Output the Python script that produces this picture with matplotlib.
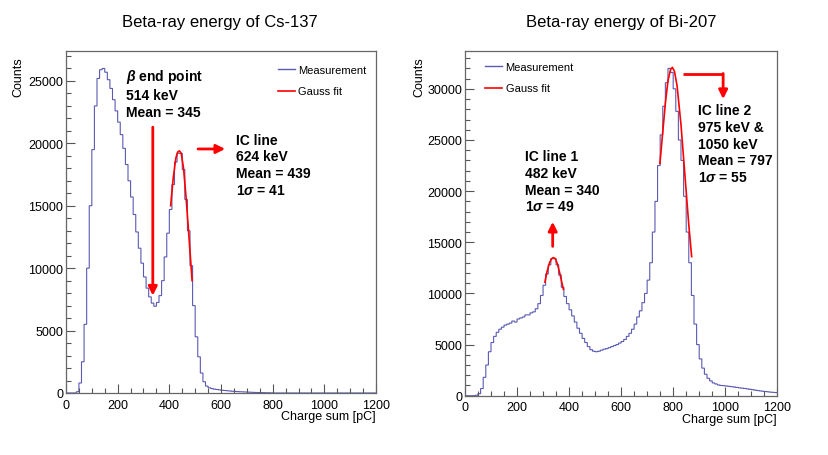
import numpy as np
import matplotlib
matplotlib.use('Agg')
import matplotlib.pyplot as plt
from matplotlib.lines import Line2D
from matplotlib.ticker import MultipleLocator

plt.rcParams['font.family'] = ['Liberation Sans', 'DejaVu Sans']
plt.rcParams['mathtext.fontset'] = 'custom'
plt.rcParams['mathtext.rm'] = 'Liberation Sans:bold'
plt.rcParams['mathtext.it'] = 'Liberation Sans:italic:bold'
plt.rcParams['mathtext.bf'] = 'Liberation Sans:bold'

# histogram bins, 10 pC wide
bin_edges = np.arange(0, 1201, 10)

# Cs-137 counts per bin
cs137_counts = [
    0, 0, 0, 0, 100, 800, 2500, 5500, 10000, 15000,
    19500, 23000, 25200, 25900, 26000, 25700, 25100, 24400, 23500, 22600,
    21700, 20700, 19600, 18300, 17000, 15700, 14300, 12900, 11600, 10400,
    9300, 8400, 7700, 7200, 6950, 7250, 7800, 9000, 10900, 12800,
    14700, 16700, 18500, 19200, 19200, 17900, 15500, 13000, 10200, 7000,
    4500, 2900, 1600, 900, 550, 420, 350, 310, 280, 250,
    220, 200, 180, 160, 140, 125, 110, 100, 90, 80,
    70, 60, 50, 40, 35, 30, 25, 20, 15, 10,
    0, 0, 0, 0, 0, 0, 0, 0, 0, 0,
    0, 0, 0, 0, 0, 0, 0, 0, 0, 0,
    0, 0, 0, 0, 0, 0, 0, 0, 0, 0,
    0, 0, 0, 0, 0, 0, 0, 0, 0, 0,
]

# Bi-207 counts per bin
bi207_counts = [
    0, 0, 0, 0, 50, 200, 700, 1800, 3000, 4300,
    5200, 5800, 6200, 6500, 6700, 6900, 7000, 7100, 7300, 7200,
    7500, 7600, 7700, 7900, 7900, 8100, 8200, 8500, 9000, 9800,
    10800, 11900, 12800, 13400, 13400, 12800, 11800, 10600, 9700, 9000,
    8400, 7800, 7200, 6600, 6100, 5600, 5200, 4800, 4500, 4350,
    4300, 4350, 4450, 4550, 4600, 4700, 4800, 4900, 5000, 5150,
    5300, 5500, 5800, 6100, 6500, 7000, 7700, 8300, 9100, 10000,
    11300, 13000, 16000, 19000, 22500, 25500, 28300, 30600, 32000, 31600,
    30000, 27800, 25000, 23000, 19500, 16000, 13000, 9800, 7000, 5000,
    3600, 2700, 2100, 1700, 1450, 1250, 1150, 1050, 1000, 980,
    950, 920, 880, 850, 810, 770, 740, 710, 670, 630,
    590, 550, 510, 470, 440, 410, 380, 350, 330, 310,
]

# Gauss fit curves
cs_fit_x = [405, 415, 425, 432, 439, 446, 455, 465, 475, 488]
cs_fit_y = [15000, 17200, 18800, 19300, 19400, 19200, 18000, 15600, 12800, 9000]

bi_fit1_x = [307, 315, 325, 333, 340, 347, 355, 365, 378]
bi_fit1_y = [11100, 12100, 13000, 13400, 13500, 13400, 12900, 11900, 10400]

bi_fit2_x = [749, 760, 770, 780, 790, 797, 805, 815, 830, 845, 860, 871]
bi_fit2_y = [22700, 25800, 28600, 30800, 31900, 32100, 31700, 30300, 26500, 21600, 16700, 13600]

hist_color = '#5a5ab4'
frame_color = '#666666'


def style_axes(ax, ymax):
    ax.set_xlim(0, 1200)
    ax.set_ylim(0, ymax)
    ax.xaxis.set_major_locator(MultipleLocator(200))
    ax.xaxis.set_minor_locator(MultipleLocator(50))
    ax.yaxis.set_major_locator(MultipleLocator(5000))
    ax.yaxis.set_minor_locator(MultipleLocator(1000))
    ax.tick_params(which='both', direction='in', top=False, right=False,
                   labelsize=9, color='#555555')
    ax.tick_params(which='major', length=6.5, width=0.8)
    ax.tick_params(which='minor', length=3.6, width=0.8)
    ax.tick_params(axis='x', pad=4)
    ax.tick_params(axis='y', pad=2)
    for s in ax.spines.values():
        s.set_color(frame_color)
        s.set_linewidth(0.9)


def red_arrow(ax, xy_from, xy_to):
    ax.annotate('', xy=xy_to, xytext=xy_from,
                arrowprops=dict(arrowstyle='-|>', color='red', lw=2,
                                mutation_scale=13, shrinkA=0, shrinkB=0))


fig = plt.figure(figsize=(8.29, 4.56), dpi=100)
ax1 = fig.add_axes([0.0796, 0.136, 0.374, 0.75])
ax2 = fig.add_axes([0.5609, 0.130, 0.3767, 0.756])

# ---- Cs-137
st = ax1.stairs(cs137_counts, bin_edges, color=hist_color, lw=0.8, baseline=None)
st.set_snap(False)
ax1.plot(cs_fit_x, cs_fit_y, color='red', lw=1.2)
style_axes(ax1, 27400)
red_arrow(ax1, (336, 21300), (336, 7800))
red_arrow(ax1, (511, 19550), (616, 19550))
ax1.text(232, 26100, '$\\beta$ end point\n514 keV\nMean = 345', fontsize=10,
         fontweight='bold', va='top', ha='left', linespacing=1.25)
ax1.text(657, 20850, 'IC line\n624 keV\nMean = 439\n1$\\sigma$ = 41', fontsize=10,
         fontweight='bold', va='top', ha='left', linespacing=1.25)
h1 = [Line2D([], [], color=hist_color, lw=1), Line2D([], [], color='red', lw=1.2)]
ax1.legend(h1, ['Measurement', 'Gauss fit'], loc='upper right',
           bbox_to_anchor=(0.968, 0.958), frameon=False, fontsize=8,
           borderpad=0, borderaxespad=0, handlelength=1.5, handletextpad=0.3,
           labelspacing=1.0)

# ---- Bi-207
st = ax2.stairs(bi207_counts, bin_edges, color=hist_color, lw=0.8, baseline=None)
st.set_snap(False)
ax2.plot(bi_fit1_x, bi_fit1_y, color='red', lw=1.2)
ax2.plot(bi_fit2_x, bi_fit2_y, color='red', lw=1.2)
style_axes(ax2, 33700)
red_arrow(ax2, (337, 14600), (337, 17000))
ax2.plot([839, 992], [31460, 31460], color='red', lw=2, solid_capstyle='butt')
red_arrow(ax2, (992, 31500), (992, 29000))
ax2.text(230, 24100, 'IC line 1\n482 keV\nMean = 340\n1$\\sigma$ = 49', fontsize=10,
         fontweight='bold', va='top', ha='left', linespacing=1.25)
ax2.text(896, 28600, 'IC line 2\n975 keV &\n1050 keV\nMean = 797\n1$\\sigma$ = 55',
         fontsize=10, fontweight='bold', va='top', ha='left', linespacing=1.25)
h2 = [Line2D([], [], color=hist_color, lw=1), Line2D([], [], color='red', lw=1.2)]
ax2.legend(h2, ['Measurement', 'Gauss fit'], loc='upper left',
           bbox_to_anchor=(0.064, 0.967), frameon=False, fontsize=8,
           borderpad=0, borderaxespad=0, handlelength=1.5, handletextpad=0.35,
           labelspacing=1.0)

# titles and axis labels (ROOT style placement)
fig.text(0.2654, 0.95, 'Beta-ray energy of Cs-137', fontsize=12, ha='center', va='center')
fig.text(0.749, 0.95, 'Beta-ray energy of Bi-207', fontsize=12, ha='center', va='center')
fig.text(18 / 829, 1 - 57 / 456, 'Counts', fontsize=9, rotation=90, ha='center', va='top')
fig.text(419 / 829, 1 - 57 / 456, 'Counts', fontsize=9, rotation=90, ha='center', va='top')
fig.text(376 / 829, 1 - 417 / 456, 'Charge sum [pC]', fontsize=9, ha='right', va='center')
fig.text(777 / 829, 1 - 420 / 456, 'Charge sum [pC]', fontsize=9, ha='right', va='center')

fig.savefig('out.png', dpi=100)
